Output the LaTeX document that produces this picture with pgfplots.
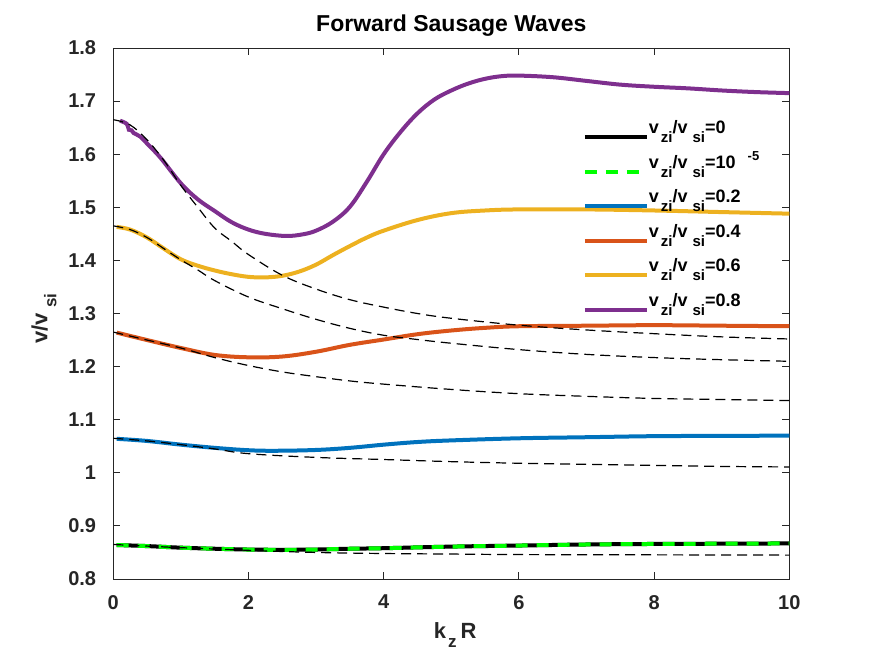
\documentclass[border=0pt]{standalone}
\usepackage{fontspec}
\setmainfont{Liberation Sans}
\usepackage{pgfplots}
\pgfplotsset{compat=1.18}
\definecolor{axgray}{rgb}{0.15,0.15,0.15}
\definecolor{mblue}{rgb}{0,0.447,0.741}
\definecolor{morange}{rgb}{0.85,0.325,0.098}
\definecolor{myellow}{rgb}{0.929,0.694,0.125}
\definecolor{mpurple}{rgb}{0.494,0.184,0.556}
\newcommand{\lsub}[1]{\raisebox{-9pt}{\fontsize{15}{15}\selectfont\bfseries #1}}
\newcommand{\lv}[1]{v\kern2pt\lsub{zi}/v\kern5pt\lsub{si}=#1}
\begin{document}
\begin{tikzpicture}
\useasboundingbox (-113.3pt,-75pt) rectangle (758.7pt,579pt);
\begin{axis}[
  scale only axis, width=676pt, height=531pt,
  xmin=0, xmax=10, ymin=0.8, ymax=1.8,
  xtick={0,2,4,6,8,10},
  ytick={0.8,0.9,1,1.1,1.2,1.3,1.4,1.5,1.6,1.7,1.8},
  tick align=inside, major tick length=7pt,
  axis line style={axgray, line width=0.9pt},
  every tick/.style={axgray, line width=0.9pt},
  /pgf/number format/assume math mode=true,
  tick label style={font=\fontsize{20}{20}\selectfont\bfseries, text=axgray},
  yticklabel style={inner sep=0pt, xshift=-17pt},
  xticklabel style={inner sep=0pt, yshift=-16pt},
  title={Forward Sausage Waves},
  title style={font=\fontsize{23}{23}\selectfont\bfseries, at={(axis description cs:0.5,1)}, anchor=base, yshift=10pt},
  xlabel={k\kern2pt\raisebox{-9pt}{\fontsize{17}{17}\selectfont\bfseries z}\kern4pt R},
  xlabel style={font=\fontsize{22}{22}\selectfont\bfseries, text=axgray, at={(axis description cs:0.5,0)}, anchor=base, yshift=-59pt, xshift=4pt},
  ylabel={v/v\kern5pt\raisebox{-9pt}{\fontsize{17}{17}\selectfont\bfseries si}},
  ylabel style={font=\fontsize{22}{22}\selectfont\bfseries, text=axgray, at={(axis description cs:0,0.5)}, anchor=base, yshift=66pt, xshift=-5pt},
  legend style={draw=none, fill=none, at={(axis description cs:0.69,0.869)}, anchor=north west,
    font=\fontsize{18}{18}\selectfont\bfseries, row sep=0pt,
    nodes={text height=14pt, text depth=20.5pt, inner sep=0pt}},
  legend cell align=left,
  legend image code/.code={\draw[#1] (0pt,0pt) -- (62pt,0pt);},
  every axis plot/.append style={smooth, tension=0.6},
]
% v_zi/v_si = 0
\addplot[black, line width=4pt] coordinates {
(0.05,0.864)(0.5,0.862)(1,0.859)(1.5,0.857)(2,0.8555)(2.5,0.855)(3,0.8555)(3.5,0.857)(4,0.858)(5,0.861)(6,0.863)(7,0.865)(8,0.866)(9,0.8665)(10,0.867)};
\addlegendentry{\lv{0}}
% 1e-5
\addplot[green, line width=4pt, dash pattern=on 12pt off 9pt] coordinates {
(0.05,0.864)(0.5,0.862)(1,0.859)(1.5,0.857)(2,0.8555)(2.5,0.855)(3,0.8555)(3.5,0.857)(4,0.858)(5,0.861)(6,0.863)(7,0.865)(8,0.866)(9,0.8665)(10,0.867)};
\addlegendentry{v\kern2pt\lsub{zi}/v\kern5pt\lsub{si}=10\kern12pt\raisebox{8pt}{\fontsize{13}{13}\selectfont\bfseries -5}}
% 0.2
\addplot[mblue, line width=4pt] coordinates {
(0.05,1.064)(0.5,1.060)(1,1.053)(1.5,1.047)(2,1.0425)(2.4,1.0415)(3,1.043)(3.5,1.047)(4,1.053)(4.5,1.058)(5,1.061)(6,1.065)(7,1.067)(8,1.069)(9,1.0695)(10,1.070)};
\addlegendentry{\lv{0.2}}
% 0.4
\addplot[morange, line width=4pt] coordinates {
(0.05,1.264)(0.5,1.250)(1,1.235)(1.5,1.222)(2,1.2175)(2.5,1.219)(3,1.228)(3.5,1.241)(4,1.251)(4.5,1.261)(5,1.268)(5.5,1.273)(6,1.276)(7,1.277)(8,1.278)(9,1.277)(10,1.276)};
\addlegendentry{\lv{0.4}}
% 0.6
\addplot[myellow, line width=4pt] coordinates {
(0.05,1.463)(0.25,1.458)(0.5,1.443)(0.75,1.422)(1,1.402)(1.25,1.390)(1.5,1.381)(1.75,1.374)(2,1.369)(2.25,1.368)(2.5,1.371)(2.75,1.379)(3,1.392)(3.25,1.410)(3.5,1.427)(3.75,1.443)(4,1.456)(4.5,1.476)(5,1.489)(5.5,1.494)(6,1.496)(7,1.496)(8,1.494)(9,1.491)(10,1.488)};
\addlegendentry{\lv{0.6}}
% 0.8
\addplot[mpurple, line width=4pt] coordinates {
(0.1,1.663)(0.2,1.657)(0.23,1.646)(0.27,1.645)(0.3,1.640)(0.4,1.633)(0.5,1.620)(0.7,1.593)(1,1.545)(1.25,1.515)(1.5,1.493)(1.75,1.472)(2,1.458)(2.25,1.450)(2.56,1.446)(2.8,1.449)(3,1.456)(3.25,1.473)(3.5,1.501)(3.75,1.548)(4,1.600)(4.25,1.642)(4.5,1.677)(4.75,1.703)(5,1.720)(5.25,1.733)(5.5,1.742)(5.75,1.747)(6,1.748)(6.5,1.745)(7,1.738)(7.5,1.731)(8,1.727)(8.5,1.724)(9,1.720)(9.5,1.717)(10,1.715)};
\addlegendentry{\lv{0.8}}
% dashed reference curves
\addplot[black, line width=1.2pt, dash pattern=on 10pt off 6pt, forget plot] coordinates {
(0,0.865)(0.5,0.862)(1,0.859)(2,0.854)(3,0.850)(4,0.848)(5,0.847)(6,0.846)(8,0.8455)(10,0.845)};
\addplot[black, line width=1.2pt, dash pattern=on 10pt off 6pt, forget plot] coordinates {
(0,1.065)(0.5,1.060)(1,1.053)(1.5,1.045)(2,1.036)(3,1.029)(4,1.025)(5,1.021)(6,1.018)(7,1.016)(8,1.014)(9,1.012)(10,1.011)};
\addplot[black, line width=1.2pt, dash pattern=on 10pt off 6pt, forget plot] coordinates {
(0,1.265)(0.5,1.250)(1,1.235)(1.5,1.217)(2,1.202)(2.5,1.190)(3,1.181)(3.5,1.173)(4,1.167)(5,1.157)(6,1.149)(7,1.144)(8,1.140)(9,1.138)(10,1.136)};
\addplot[black, line width=1.2pt, dash pattern=on 10pt off 6pt, forget plot] coordinates {
(0,1.465)(0.25,1.458)(0.5,1.443)(0.75,1.422)(1,1.401)(1.25,1.382)(1.5,1.362)(2,1.331)(2.5,1.309)(3,1.289)(3.5,1.272)(4,1.259)(4.5,1.251)(5,1.244)(6,1.232)(7,1.223)(8,1.217)(9,1.213)(10,1.210)};
\addplot[black, line width=1.2pt, dash pattern=on 10pt off 6pt, forget plot] coordinates {
(0,1.665)(0.25,1.655)(0.5,1.627)(0.75,1.588)(1,1.541)(1.25,1.500)(1.5,1.461)(1.75,1.436)(2,1.411)(2.5,1.372)(3,1.346)(3.5,1.326)(4,1.312)(4.5,1.300)(5,1.291)(6,1.278)(7,1.269)(8,1.262)(9,1.256)(10,1.252)};
\end{axis}
\end{tikzpicture}
\end{document}
